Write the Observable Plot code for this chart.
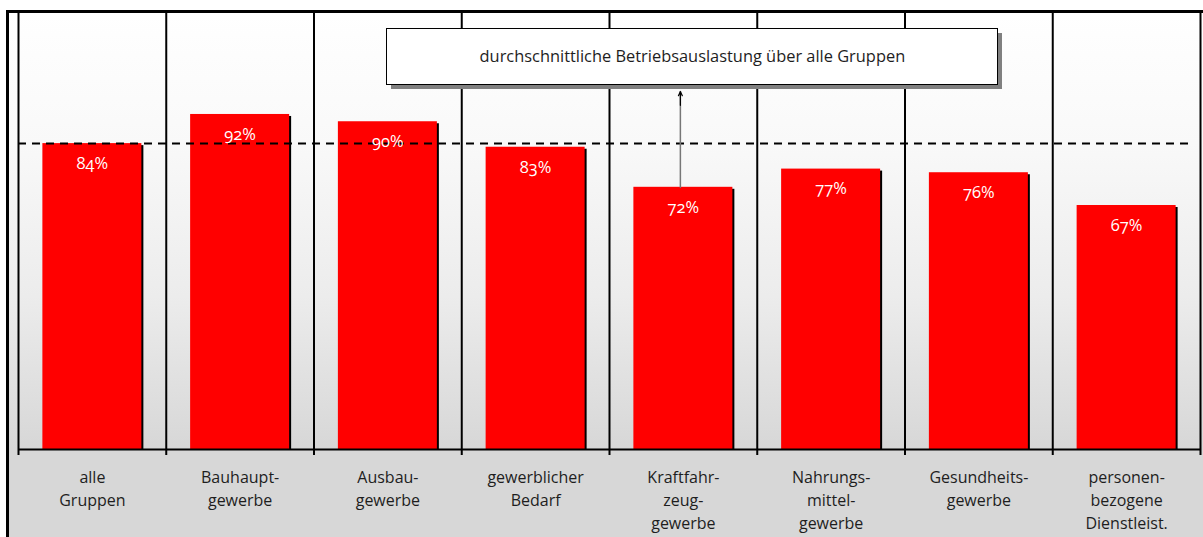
<!DOCTYPE html>
<html><head><meta charset="utf-8">
<script src="https://cdn.jsdelivr.net/npm/d3@7"></script>
<script src="https://cdn.jsdelivr.net/npm/@observablehq/plot@0.6"></script>
<style>
html,body{margin:0;padding:0;background:#fff;}
#chart svg{display:block;}
.num text{font-variant-numeric: oldstyle-nums; font-feature-settings: "onum";}
</style></head><body><div id="chart"></div>
<script>
// ---- data ----
const categories = [
  "alle\nGruppen",
  "Bauhaupt-\ngewerbe",
  "Ausbau-\ngewerbe",
  "gewerblicher\nBedarf",
  "Kraftfahr-\nzeug-\ngewerbe",
  "Nahrungs-\nmittel-\ngewerbe",
  "Gesundheits-\ngewerbe",
  "personen-\nbezogene\nDienstleist."
];
const values = [84, 92, 90, 83, 72, 77, 76, 67];
const average = 84;
const annotationText = "durchschnittliche Betriebsauslastung über alle Gruppen";
const annotatedIndex = 4;

// ---- layout ----
const W = 1203, H = 537, ML = 18, MR = 3, MT = 12, MB = 88;
const step = (W - ML - MR) / categories.length;
const data = categories.map((c, i) => ({cat: c, value: values[i]}));
const font = "'Open Sans', sans-serif";

const background = (index, scales, vals, dims) => {
  const g = d3.create("svg:g");
  const lg = g.append("defs").append("linearGradient")
    .attr("id", "bgGrad").attr("x1", 0).attr("y1", 0).attr("x2", 0).attr("y2", 1);
  [[0, "#ffffff"], [0.3, "#f9f9f9"], [0.65, "#ececec"], [1, "#d7d7d7"]]
    .forEach(([o, c]) => lg.append("stop").attr("offset", o).attr("stop-color", c));
  g.append("rect").attr("x", 8).attr("y", dims.marginTop)
    .attr("width", dims.width - 8).attr("height", dims.height - dims.marginTop - dims.marginBottom)
    .attr("fill", "url(#bgGrad)");
  g.append("rect").attr("x", 8).attr("y", dims.height - dims.marginBottom)
    .attr("width", dims.width - 8).attr("height", dims.marginBottom).attr("fill", "#d7d7d7");
  g.append("line").attr("x1", 6).attr("x2", dims.width).attr("y1", dims.marginTop - 0.5).attr("y2", dims.marginTop - 0.5)
    .attr("stroke", "#000").attr("stroke-width", 3);
  g.append("line").attr("x1", 7.5).attr("x2", 7.5).attr("y1", dims.marginTop - 2).attr("y2", dims.height)
    .attr("stroke", "#000").attr("stroke-width", 3);
  return g.node();
};

const annotationBox = (index, scales, vals, dims) => {
  const g = d3.create("svg:g");
  const x0 = 386, y0 = 28, w = 611, h = 56;
  g.append("rect").attr("x", x0 + 5).attr("y", y0 + 5).attr("width", w).attr("height", h).attr("fill", "#808080");
  g.append("rect").attr("x", x0 + 0.5).attr("y", y0 + 0.5).attr("width", w).attr("height", h)
    .attr("fill", "#fff").attr("stroke", "#000").attr("stroke-width", 1);
  return g.node();
};

const chart = Plot.plot({
  width: W, height: H,
  marginLeft: ML, marginRight: MR, marginTop: MT, marginBottom: MB,
  style: {fontFamily: font, background: "transparent", overflow: "visible"},
  x: {domain: categories, paddingInner: 0.33, paddingOuter: 0.165, round: false, axis: null},
  y: {domain: [0, 120], axis: null},
  marks: [
    background,
    Plot.ruleX(categories, {x: d => d, dx: -step / 2, stroke: "#000", strokeWidth: 2, insetBottom: -6}),
    Plot.ruleX([categories[categories.length - 1]], {x: d => d, dx: step / 2, stroke: "#000", strokeWidth: 2, insetBottom: -6}),
    Plot.barY(data, {x: "cat", y: "value", fill: "#000", dx: 2, insetTop: 2}),
    Plot.barY(data, {x: "cat", y: "value", fill: "#ff0000"}),
    Plot.ruleY([average], {stroke: "#000", strokeWidth: 2, strokeDasharray: "8,6", insetRight: 12}),
    Plot.ruleY([0], {stroke: "#000", strokeWidth: 2}),
    Plot.text(data, {x: "cat", y: "value", text: d => d.value + "%", dy: 20, fill: "#fff",
      fontSize: 16.5, fontFamily: font, className: "num"}),
    Plot.text(data, {x: "cat", y: 0, text: "cat", dy: 17, lineAnchor: "top", lineHeight: 1.45,
      fontSize: 16, fill: "#1e1e1e", fontFamily: font}),
    Plot.arrow([data[annotatedIndex]], {x1: "cat", x2: "cat", y1: "value", y2: 98.3, dx: -3,
      stroke: "#777", strokeWidth: 1.5, headLength: 0}),
    Plot.arrow([data[annotatedIndex]], {x1: "cat", x2: "cat", y1: 94.5, y2: 98.3, dx: -3,
      stroke: "#000", strokeWidth: 1.2, headLength: 7, headAngle: 50}),
    annotationBox,
    Plot.text([annotationText], {x: () => categories[annotatedIndex], y: 107.8, text: d => d, dx: 9,
      fontSize: 16.4, fill: "#1e1e1e", fontFamily: font})
  ]
});
document.getElementById("chart").appendChild(chart);
</script>
</body></html>
